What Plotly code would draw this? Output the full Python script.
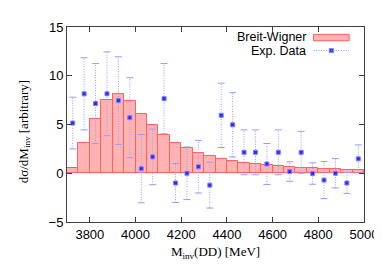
import plotly.graph_objects as go

# Breit-Wigner histogram (50 MeV bins)
bin_left = [3700 + 50 * i for i in range(26)]
bw_values = [0.5, 3.15, 5.6, 7.5, 8.1, 7.45, 6.1, 4.9, 3.9, 3.1, 2.6, 2.1, 1.8,
             1.48, 1.3, 1.07, 0.97, 0.84, 0.77, 0.67, 0.57, 0.5, 0.46, 0.42, 0.37, 0.35]

# Experimental data (bin centres)
exp_x = [3725 + 50 * i for i in range(26)]
exp_y = [5.15, 8.15, 7.15, 8.15, 7.45, 5.7, 0.47, 1.68, 7.65, -1.0, 0.0, 0.67, -1.22,
         5.94, 4.97, 2.15, 2.15, 0.95, 2.15, 0.17, 2.15, -0.03, -0.7, 0.0, -1.0, 1.48]
exp_err = [2.65, 3.7, 4.1, 4.3, 4.5, 4.1, 3.5, 2.85, 3.6, 2.0, 2.7, 2.7, 2.35,
           3.3, 3.3, 2.3, 2.3, 2.1, 2.3, 1.0, 2.15, 1.1, 1.9, 1.5, 1.07, 1.43]

x_ticks = [3800, 4000, 4200, 4400, 4600, 4800, 5000]
y_ticks = [-5, 0, 5, 10, 15]

bar_fill = "rgba(255,150,150,0.72)"
bar_line = "#ff6060"
err_color = "#9a9aff"
pt_color = "#2a2aff"

fig = go.Figure()

fig.add_trace(go.Bar(
    x=[b + 25 for b in bin_left], y=bw_values, width=50,
    marker=dict(color=bar_fill, line=dict(color=bar_line, width=1)),
    showlegend=False, hoverinfo="skip"))

# dotted error bars
ex, ey = [], []
for xv, yv, e in zip(exp_x, exp_y, exp_err):
    ex += [xv, xv, None]
    ey += [yv - e, yv + e, None]
fig.add_trace(go.Scatter(x=ex, y=ey, mode="lines",
                         line=dict(color=err_color, width=1, dash="1px,1.5px"),
                         showlegend=False, hoverinfo="skip"))
# caps
cx, cy = [], []
for xv, yv, e in zip(exp_x, exp_y, exp_err):
    cx += [xv, xv]
    cy += [yv - e, yv + e]
fig.add_trace(go.Scatter(x=cx, y=cy, mode="markers",
                         marker=dict(symbol="line-ew", size=5,
                                     line=dict(color=err_color, width=1)),
                         showlegend=False, hoverinfo="skip"))
fig.add_trace(go.Scatter(x=exp_x, y=exp_y, mode="markers",
                         marker=dict(symbol="square", size=4, color=pt_color,
                                     line=dict(color="#8080ff", width=1)),
                         showlegend=False))

# manual gnuplot-style key (paper coords)
fig.add_shape(type="rect", xref="paper", yref="paper",
              x0=(308 - 59) / 300, x1=(344 - 59) / 300,
              y0=(214 - 29) / 199, y1=(214 - 22.5) / 199,
              fillcolor=bar_fill, line=dict(color=bar_line, width=1))
fig.add_shape(type="line", xref="paper", yref="paper",
              x0=(308 - 59) / 300, x1=(344 - 59) / 300,
              y0=(214 - 39) / 199, y1=(214 - 39) / 199,
              line=dict(color=err_color, width=1, dash="1px,1.5px"))
fig.add_trace(go.Scatter(x=[(326 - 59) / 300], y=[(214 - 39) / 199],
                         xaxis="x2", yaxis="y2", mode="markers",
                         marker=dict(symbol="square", size=4, color=pt_color,
                                     line=dict(color="#8080ff", width=1)),
                         showlegend=False, hoverinfo="skip"))
for txt, yy in [("Breit-Wigner", 25.2), ("Exp. Data", 39.3)]:
    fig.add_annotation(text=txt, xref="paper", yref="paper",
                       x=(301 - 59) / 300, y=(214 - yy) / 199,
                       xanchor="right", yanchor="middle", showarrow=False,
                       borderpad=0,
                       font=dict(family="Liberation Sans", size=12.5, color="black"))

# y-axis title as rotated annotation for exact placement
fig.add_annotation(text="dσ/dM<sub>inv</sub> [arbitrary]", xref="paper", yref="paper",
                   x=(16 - 59) / 300, y=(214 - 122) / 199,
                   xanchor="center", yanchor="middle", textangle=-90,
                   showarrow=False, borderpad=0,
                   font=dict(family="Liberation Serif", size=13, color="black"))

axis_common = dict(showgrid=False, zeroline=False, showline=True, mirror="allticks",
                   linecolor="#404040", linewidth=1, ticks="inside", ticklen=5,
                   tickcolor="#404040",
                   tickfont=dict(family="Liberation Sans", size=13, color="black"))

fig.update_layout(
    width=382, height=267,
    margin=dict(l=59, r=23, t=15, b=53),
    paper_bgcolor="white", plot_bgcolor="white",
    bargap=0,
    xaxis=dict(range=[3700, 5000], tickvals=x_ticks,
               title=dict(text="M<sub>inv</sub>(DD) [MeV]", standoff=6,
                          font=dict(family="Liberation Serif", size=13, color="black")),
               **axis_common),
    yaxis=dict(range=[-5, 15], tickvals=y_ticks, **axis_common),
    xaxis2=dict(range=[0, 1], overlaying="x", visible=False),
    yaxis2=dict(range=[0, 1], overlaying="y", visible=False),
)

fig.write_html("out.html")
